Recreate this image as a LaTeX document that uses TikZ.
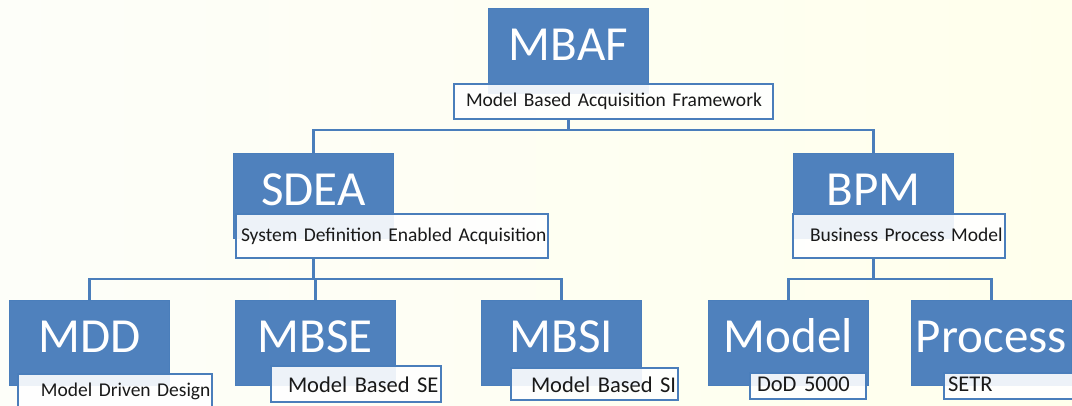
\documentclass[tikz,border=0pt]{standalone}
\usepackage{fontspec}
\setmainfont{Carlito}
\usepackage{xcolor}
\definecolor{boxblue}{HTML}{4F81BD}
\definecolor{edgeblue}{HTML}{4A7EBB}
\definecolor{bgleft}{HTML}{FDFEF9}
\definecolor{bgright}{HTML}{FFFFEC}

\begin{document}
\begin{tikzpicture}[
    x=1pt, y=-1pt,
    unit/.style={rectangle, draw=edgeblue, line width=0.8pt, fill=boxblue, text=white, anchor=north west, minimum width=160pt, minimum height=85pt, inner sep=0pt, text height=32pt, text depth=13pt, font=\fontsize{49}{49}\selectfont},
    tag/.style={rectangle, draw=edgeblue, line width=2pt, fill=white, fill opacity=0.9, text opacity=1, text=black!90, anchor=north west, inner sep=0pt, align=left, font=\fontsize{19.5}{19.5}\selectfont},
    bigtag/.style={tag, font=\fontsize{22.5}{22.5}\selectfont},
    link/.style={draw=edgeblue, line width=2.5pt}
]
    \useasboundingbox (0,0) rectangle (1072,405);
    \shade[left color=bgleft, right color=bgright] (0,0) rectangle (1072,405);

    % Framework boxes
    \node[unit] (mbaf) at (488,8) {MBAF};
    \node[unit] (sdea) at (233,153) {SDEA};
    \node[unit] (bpm) at (793,153) {BPM};
    \node[unit] (mdd) at (9,300) {MDD};
    \node[unit] (mbse) at (235,300) {MBSE};
    \node[unit] (mbsi) at (481,300) {MBSI};
    \node[unit] (model) at (708,300) {Model};
    \node[unit] (process) at (911,300) {Process};

    % Name tags
    \node[tag, text width=319pt, text height=22pt, text depth=13pt] (mbaftag) at (453,83) {\hspace*{12pt}Model Based Acquisition Framework};
    \node[tag, text width=312pt, text height=27pt, text depth=17pt] (sdeatag) at (235,213) {\hspace*{5pt}System Definition Enabled Acquisition};
    \node[tag, text width=212pt, text height=27pt, text depth=17pt] (bpmtag) at (792,213) {\hspace*{17pt}Business Process Model};
    \node[tag, text width=194pt, text height=22pt, text depth=14pt] (mddtag) at (17,373) {\hspace*{23pt}Model Driven Design};
    \node[bigtag, text width=170pt, text height=26pt, text depth=10pt] (mbsetag) at (270,365) {\hspace*{17pt}Model Based SE};
    \node[bigtag, text width=167pt, text height=24pt, text depth=8pt] (mbsitag) at (510,367) {\hspace*{20pt}Model Based SI};
    \node[bigtag, text width=116pt, text height=18pt, text depth=8pt] (modeltag) at (749,372) {\hspace*{7pt}DoD 5000};
    \node[bigtag, text width=140pt, text height=18pt, text depth=8pt] (processtag) at (943,372) {\hspace*{4pt}SETR};

    % Connections
    \draw[link] (mbaf.south |- mbaftag.south) -- ++(0,10) -| (sdea.north);
    \draw[link] (mbaf.south |- mbaftag.south) -- ++(0,10) -| (bpm.north);
    \draw[link] (sdea.south |- sdeatag.south) -- ++(0,20) -| (mdd.north);
    \draw[link] (sdea.south |- sdeatag.south) -- ++(0,20) -| (mbse.north);
    \draw[link] (sdea.south |- sdeatag.south) -- ++(0,20) -| (mbsi.north);
    \draw[link] (bpm.south |- bpmtag.south) -- ++(0,20) -| (model.north);
    \draw[link] (bpm.south |- bpmtag.south) -- ++(0,20) -| (process.north);
\end{tikzpicture}
\end{document}
